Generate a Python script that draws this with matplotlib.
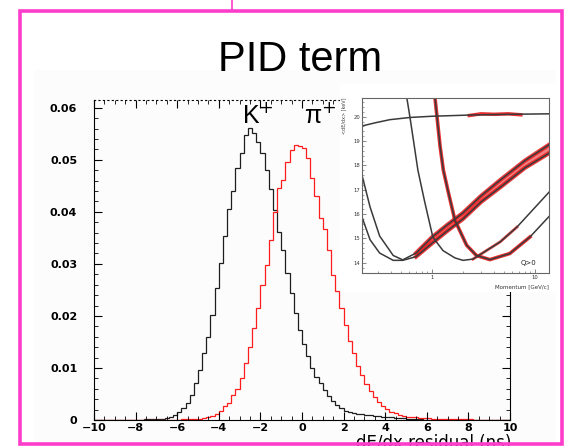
import numpy as np
import matplotlib.pyplot as plt
from matplotlib.patches import Rectangle
from matplotlib.lines import Line2D
from matplotlib.ticker import NullFormatter

# ─────────────────────────────────────────────────────────────
# Main plot: dE/dx residual histograms, 100 bins of 0.2 ns
# ─────────────────────────────────────────────────────────────
bin_edges = np.linspace(-10, 10, 101)

kaon_counts = [
    0, 0, 0, 0, 0, 0, 0, 0, 0, 0,
    0, 0, 0.0001, 0.0001, 0.0001, 0.0002, 0.0002, 0.0003, 0.0005, 0.0010,
    0.0016, 0.0024, 0.0032, 0.0048, 0.0071, 0.0097, 0.0128, 0.0160, 0.0201, 0.0254,
    0.0302, 0.0353, 0.0405, 0.0441, 0.0484, 0.0514, 0.0548, 0.0561, 0.0551, 0.0535,
    0.0514, 0.0481, 0.0444, 0.0403, 0.0362, 0.0327, 0.0282, 0.0245, 0.0205, 0.0173,
    0.0146, 0.0123, 0.0100, 0.0083, 0.0071, 0.0058, 0.0047, 0.0037, 0.0029, 0.0023,
    0.0018, 0.0015, 0.0013, 0.0012, 0.0011, 0.0010, 0.0009, 0.0008, 0.0007, 0.0006,
    0.0005, 0.0005, 0.0004, 0.0003, 0.0003, 0.0002, 0.0002, 0.0001, 0.0001, 0,
    0, 0, 0, 0, 0, 0, 0, 0, 0, 0,
    0, 0, 0, 0, 0, 0, 0, 0, 0, 0,
]

pion_counts = [
    0, 0, 0, 0, 0, 0, 0, 0, 0, 0,
    0, 0, 0, 0, 0, 0, 0, 0, 0, 0,
    0, 0.0001, 0.0001, 0.0001, 0.0002, 0.0002, 0.0003, 0.0005, 0.0008, 0.0012,
    0.0018, 0.0026, 0.0033, 0.0048, 0.0059, 0.0080, 0.0110, 0.0140, 0.0177, 0.0215,
    0.0260, 0.0298, 0.0346, 0.0400, 0.0446, 0.0462, 0.0495, 0.0519, 0.0529, 0.0527,
    0.0522, 0.0503, 0.0465, 0.0430, 0.0388, 0.0367, 0.0327, 0.0279, 0.0247, 0.0215,
    0.0183, 0.0152, 0.0128, 0.0103, 0.0087, 0.0070, 0.0056, 0.0045, 0.0035, 0.0027,
    0.0021, 0.0016, 0.0013, 0.0010, 0.0008, 0.0006, 0.0006, 0.0005, 0.0004, 0.0003,
    0.0003, 0.0002, 0.0002, 0.0002, 0.0002, 0.0001, 0.0001, 0.0001, 0.0001, 0.0001,
    0.0001, 0, 0, 0, 0, 0, 0, 0, 0, 0,
]

y_ticks = [0, 0.01, 0.02, 0.03, 0.04, 0.05, 0.06]
y_tick_labels = ["0", "0.01", "0.02", "0.03", "0.04", "0.05", "0.06"]
x_ticks = [-10, -8, -6, -4, -2, 0, 2, 4, 6, 8, 10]

# ─────────────────────────────────────────────────────────────
# Inset: <dE/dx> vs momentum
# ─────────────────────────────────────────────────────────────
p_electron = [0.209, 0.28, 0.39, 0.61, 1.0, 2.34, 5.7, 13.7]
e_electron = [19.62, 19.75, 19.88, 19.97, 20.02, 20.07, 20.10, 20.12]

p_pion = [0.209, 0.25, 0.31, 0.42, 0.52, 0.7, 1.0, 1.4, 2.0, 3.0, 4.6, 8.0, 13.7]
e_pion_a = [17.6, 16.3, 15.1, 14.3, 14.12, 14.4, 15.05, 15.55, 16.05, 16.75, 17.4, 18.2, 18.85]
e_pion_b = [15.88, 14.95, 14.4, 14.1, 14.1, 14.25, 14.8, 15.3, 15.8, 16.5, 17.1, 17.9, 18.5]

p_kaon = [0.57, 0.61, 0.66, 0.73, 0.85, 1.02, 1.28, 1.67, 2.0, 2.5, 3.1, 4.6, 6.7, 13.7]
e_kaon = [20.77, 20.0, 19.04, 17.8, 16.5, 15.05, 14.5, 14.2, 14.1, 14.15, 14.4, 14.86, 15.47, 16.9]

p_proton = [1.07, 1.2, 1.29, 1.45, 1.67, 2.17, 2.7, 3.65, 5.7, 8.95, 13.7]
e_proton = [20.77, 18.77, 17.8, 16.85, 15.75, 14.72, 14.3, 14.13, 14.38, 15.06, 15.9]

# red measured points (bands along the curves)
p_red_electron = [2.3, 3.0, 4.0, 5.5, 7.3]
e_red_electron = [20.05, 20.12, 20.1, 20.12, 20.08]

W, H = 567, 446
fig = plt.figure(figsize=(W / 100, H / 100), dpi=100)


def fx(px):
    return px / W


def fy(py):
    return 1 - py / H


# faint grey backdrop of the pasted plot
fig.patches.append(Rectangle((fx(34), fy(444)), fx(556) - fx(34), fy(70) - fy(444),
                             transform=fig.transFigure, facecolor="#fcfcfc",
                             edgecolor="none", zorder=-1))

# ── main axes ────────────────────────────────────────────────
ax = fig.add_axes([fx(94), fy(420), fx(510) - fx(94), fy(100) - fy(420)])
ax.set_facecolor("none")
ax.stairs(kaon_counts, bin_edges, color="#1e1e1e", lw=0.9)
ax.stairs(pion_counts, bin_edges, color="#ff1c1c", lw=0.9)
ax.set_xlim(-10, 10)
ax.set_ylim(0, 0.0615)
ax.set_xticks(x_ticks)
ax.set_xticks(np.arange(-10, 10.01, 0.5), minor=True)
ax.set_yticks(y_ticks)
ax.set_yticklabels(y_tick_labels)
ax.set_yticks(np.arange(0, 0.0615, 0.002), minor=True)
ax.tick_params(which="both", direction="in", top=True, right=True, labelsize=8)
ax.tick_params(which="major", length=6, width=0.8)
ax.tick_params(which="minor", length=3, width=0.6)
ax.tick_params(axis="y", pad=12)
ax.tick_params(axis="x", pad=2)
for lbl in ax.get_xticklabels() + ax.get_yticklabels():
    lbl.set_fontweight("bold")
ax.spines["top"].set_linestyle((0, (1, 3)))
ax.spines["top"].set_linewidth(0.8)

# axis title sits right under the tick labels and runs off the slide bottom
fig.text(fx(511), fy(434), "dE/dx residual (ns)", ha="right", va="top", fontsize=12)

fig.text(fx(242), fy(123), "K$^{+}$", fontsize=18, family="Liberation Sans",
         va="baseline")
fig.text(fx(304), fy(123), "π$^{+}$", fontsize=18, family="Liberation Sans",
         va="baseline")

fig.text(fx(300), fy(71), "PID term", ha="center", va="baseline", fontsize=30,
         family="Liberation Sans")

# ── inset ────────────────────────────────────────────────────
fig.patches.append(Rectangle((fx(340), fy(292)), fx(557) - fx(340), fy(84) - fy(292),
                             transform=fig.transFigure, facecolor="white",
                             edgecolor="none", zorder=1))

ins = fig.add_axes([fx(362), fy(273), fx(549) - fx(362), fy(98) - fy(273)])
ins.set_zorder(2)
ins.set_xscale("log")
ins.set_xlim(0.209, 13.7)
ins.set_ylim(13.58, 20.77)

red = "#e8191b"
p_pi = np.array(p_pion)
hi = p_pi >= 0.7
ins.fill_between(p_pi[hi], np.array(e_pion_a)[hi], np.array(e_pion_b)[hi],
                 color=red, alpha=0.55, lw=0)
ins.plot(p_pi[hi], np.array(e_pion_a)[hi], color=red, lw=3.0, alpha=0.85)
ins.plot(p_pi[hi], np.array(e_pion_b)[hi], color=red, lw=3.0, alpha=0.85)
ins.plot(p_red_electron, e_red_electron, color=red, lw=2.5, alpha=0.9)
pk = np.array(p_kaon)
kmask = (pk >= 2.5) & (pk <= 7)
ins.plot(pk[kmask], np.array(e_kaon)[kmask], color=red, lw=2.0, alpha=0.8)
pp = np.array(p_proton)
pmask = pp <= 9
ins.plot(pp[pmask], np.array(e_proton)[pmask], color=red, lw=2.6, alpha=0.9)

curve = dict(color="#3a3a3a", lw=1.1)
ins.plot(p_electron, e_electron, **curve)
ins.plot(p_pion, e_pion_a, **curve)
ins.plot(p_pion, e_pion_b, **curve)
ins.plot(p_kaon, e_kaon, **curve)
ins.plot(p_proton, e_proton, **curve)

ins.set_xticks([1, 10])
ins.set_xticklabels(["1", "10"])
ins.xaxis.set_minor_formatter(NullFormatter())
ins.set_yticks([14, 15, 16, 17, 18, 19, 20])
ins.set_yticks(np.arange(13.6, 20.8, 0.2), minor=True)
ins.tick_params(which="both", direction="in", labelsize=3.8, pad=1.5,
                colors="#555555", labelcolor="#333333")
ins.tick_params(which="major", length=3, width=0.5)
ins.tick_params(which="minor", length=1.5, width=0.4)
for s in ins.spines.values():
    s.set_color("#666666")
    s.set_linewidth(0.8)
ins.text(1.0, -0.065, "Momentum [GeV/c]", transform=ins.transAxes, ha="right",
         va="top", fontsize=4, color="#333333")
ins.text(-0.095, 1.0, "<dE/dx> [keV]", transform=ins.transAxes, ha="center",
         va="top", rotation=90, fontsize=3.5, color="#444444")
ins.text(0.89, 0.06, "Q>0", transform=ins.transAxes, ha="center", va="center",
         fontsize=5, color="#222222")

# ── slide frame ──────────────────────────────────────────────
pink = "#ff3dcc"
fig.patches.append(Rectangle((fx(20), fy(444)), fx(562) - fx(20), fy(11) - fy(444),
                             transform=fig.transFigure, facecolor="none",
                             edgecolor=pink, lw=2.6, zorder=10))
fig.lines.append(Line2D([fx(232), fx(232)], [fy(0), fy(11)], transform=fig.transFigure,
                        color=pink, lw=1.2, zorder=10))

fig.savefig("out.png", dpi=100)
